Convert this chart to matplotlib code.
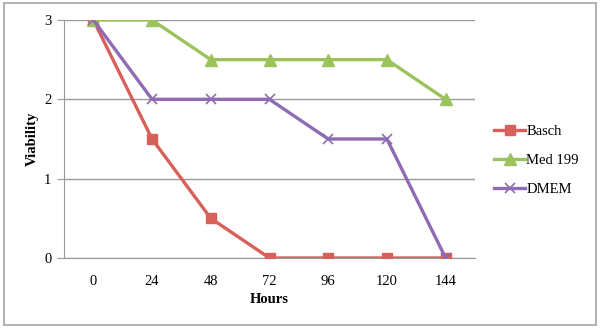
import numpy as np
import matplotlib
matplotlib.use("Agg")
import matplotlib.pyplot as plt
from matplotlib.patches import Rectangle

hours = ["0", "24", "48", "72", "96", "120", "144"]
basch = [3, 1.5, 0.5, 0, 0, 0, 0]
med199 = [3, 3, 2.5, 2.5, 2.5, 2.5, 2]
dmem = [3, 2, 2, 2, 1.5, 1.5, 0]

plt.rcParams['font.family'] = ['Liberation Serif', 'DejaVu Serif']

fig = plt.figure(figsize=(6, 3.28), dpi=100)
# outer chart border
fig.patches.append(Rectangle((0.006, 0.009), 0.988, 0.982, transform=fig.transFigure,
                             fill=False, edgecolor='#a6a6a6', linewidth=1.2))

ax = fig.add_axes([64/600, 1 - 258/328, (475-64)/600, (258-20)/328])
x = np.arange(len(hours))

ax.plot(x, basch, color='#d9605a', lw=2.4, marker='s', ms=7, label='Basch', zorder=3)
ax.plot(x, med199, color='#9cc35a', lw=2.4, marker='^', ms=8, label='Med 199', zorder=3)
ax.plot(x, dmem, color='#8e6bb3', lw=2.4, marker='x', ms=7, mew=1.2, label='DMEM', zorder=4)

ax.set_xlim(-0.5, 6.5)
ax.set_ylim(0, 3)
ax.set_xticks(x)
ax.set_xticklabels(hours)
ax.set_yticks([0, 1, 2, 3])
ax.yaxis.grid(True, color='#999999', lw=1)
ax.set_axisbelow(True)
ax.tick_params(axis='x', length=0, pad=12, labelsize=10.5)
ax.tick_params(axis='y', length=5, color='#999999', pad=4, labelsize=10.5)
for s in ['top', 'right']:
    ax.spines[s].set_visible(False)
ax.spines['left'].set_color('#999999')
ax.spines['bottom'].set_color('#999999')
ax.set_xlabel('Hours', fontweight='bold', fontsize=10.5, labelpad=4)
ax.set_ylabel('Viability', fontweight='bold', fontsize=10.5, labelpad=3.5)

ax.legend(loc='center left', bbox_to_anchor=(1.015, 0.41), frameon=False, fontsize=10.5,
          handlelength=2.1, handletextpad=0.1, labelspacing=1.1)

fig.savefig('out.png', dpi=100)
